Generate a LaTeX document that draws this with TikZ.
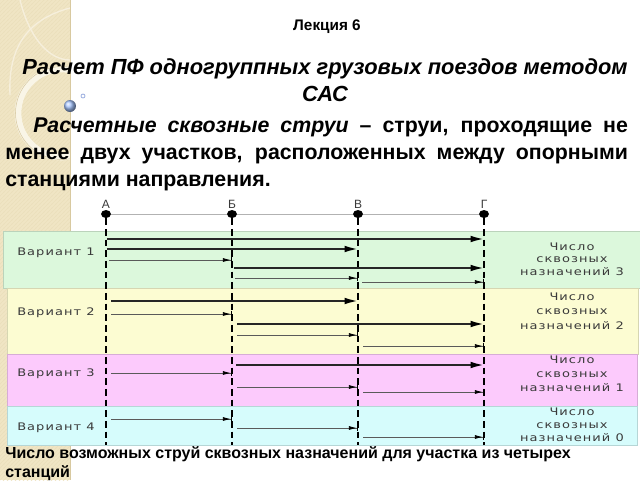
\documentclass[tikz,border=0pt]{standalone}
\usepackage{fontspec}
\setmainfont{Liberation Sans}
\newfontfamily\lblfont[LetterSpace=10,FakeStretch=1.25]{DejaVu Sans}
\usetikzlibrary{arrows.meta,calc,patterns,shapes.geometric}
\definecolor{beige}{HTML}{F0E5C4}
\definecolor{beigeline}{HTML}{EBDFBB}
\definecolor{beigeedge}{HTML}{D8C9A0}
\definecolor{bandA}{HTML}{DCF8DC}
\definecolor{bandB}{HTML}{FCFCD2}
\definecolor{bandC}{HTML}{FCCAFC}
\definecolor{bandD}{HTML}{D6FCFC}
\definecolor{lbl}{HTML}{3A3A3A}
\definecolor{thinline}{HTML}{5A5A5A}
\newcommand\flow[5]{%
  \coordinate (fy) at (0,#1);
  \draw[#5] ($(#2 |- fy)+(#4,0)$) -- (#3 |- fy);}
\begin{document}
\begin{tikzpicture}[x=0.75pt,y=-0.75pt,
  bandbox/.style={draw=#1!85!black, line width=0.4pt, fill=#1},
  varlabel/.style={anchor=west, font=\lblfont\fontsize{7.8}{10}\selectfont, text=lbl, inner sep=0},
  numlabel/.style={align=center, font=\lblfont\fontsize{7.8}{#1}\selectfont, text=lbl, inner sep=0},
  stdot/.style={ellipse, fill=black, minimum width=7.5pt, minimum height=6pt, inner sep=0},
  stlabel/.style={anchor=south, font=\fontsize{9}{10}\selectfont, text=lbl, inner sep=0},
  stline/.style={black, line width=0.9pt, dash pattern=on 5pt off 3pt},
  thickflow/.style={black!85, line width=1.5pt, -{Latex[length=10pt,width=5pt,black]}},
  thinflow/.style={thinline, line width=0.6pt, -{Latex[length=6pt,width=3pt,black]Bar[width=5pt,line width=0.8pt,black]}}
]
\useasboundingbox (0,0) rectangle (640,480);
\fill[white] (0,0) rectangle (640,480);
% left decorative stripe
\fill[beige] (0,0) rectangle (70,480);
\fill[pattern=north east lines, pattern color=beigeline] (0,0) rectangle (70,480);
\begin{scope}
  \clip (0,0) rectangle (70,480);
  \draw[white!60!beige, line width=5pt] (62,113) circle (44);
  \draw[beigeedge, line width=0.4pt] (62,113) circle (46.5);
  \draw[white!40!beige, line width=1pt] (70,8) .. controls (25,20) and (8,50) .. (10,95);
  \draw[white!40!beige, line width=1pt] (20,0) .. controls (30,40) and (50,60) .. (70,60);
\end{scope}
\draw[beigeedge, line width=0.6pt] (70,0) -- (70,480);
\shade[ball color=cyan!35!blue!35!white] (70,106) circle (6);
\draw[cyan!40!blue!40, line width=0.6pt] (83,96) circle (2);

% texts
\node[font=\bfseries\fontsize{11.5}{12}\selectfont, inner sep=0] (lec) at (327,27) {Лекция 6};
\node[font=\bfseries\itshape\fontsize{16.4}{20.3}\selectfont, align=center, inner sep=0] (title) at (325,80)
  {Расчет ПФ одногруппных грузовых поездов методом\\САС};
\node[anchor=north west, text width=467pt, align=justify, inner sep=0,
      font=\bfseries\fontsize{16}{20}\selectfont] (para) at (5,118)
  {\hspace*{21pt}\textit{Расчетные сквозные струи} – струи, проходящие не\linebreak
   менее двух участков, расположенных между опорными\linebreak
   станциями направления.};

% bands
\path[bandbox=bandA] (3,231) rectangle (640,288);
\path[bandbox=bandB] (7,288) rectangle (638,354);
\path[bandbox=bandC] (7,354) rectangle (637,406);
\path[bandbox=bandD] (7,406) rectangle (637,445);

\node[varlabel] (v1) at (17,253) {Вариант 1};
\node[varlabel] (v2) at (17,313) {Вариант 2};
\node[varlabel] (v3) at (17,374) {Вариант 3};
\node[varlabel] (v4) at (17,428) {Вариант 4};

\node[numlabel=9.5] (n1) at (572,259) {Число\\сквозных\\назначений 3};
\node[numlabel=10.8] (n2) at (572,311) {Число\\сквозных\\назначений 2};
\node[numlabel=10.3] (n3) at (572,374) {Число\\сквозных\\назначений 1};
\node[numlabel=9.6] (n4) at (572,425) {Число\\сквозных\\назначений 0};

% stations
\coordinate (A0) at (106,214);
\coordinate (G0) at (484,214);
\draw[black!30, line width=0.6pt] (A0) -- (G0);
\coordinate (bot) at (0,445);
\foreach \n/\x/\t in {A/106/А, B/232/Б, V/358/В, G/484/Г}{
  \node[stdot] (\n) at (\x,214) {};
  \node[stlabel] (\n lab) at (\x,209) {\t};
  \draw[stline] (\n) -- (\n |- bot);
}

% variant 1
\flow{239}{A}{G}{1}{thickflow}
\flow{249}{A}{V}{1}{thickflow}
\flow{260}{A}{B}{3}{thinflow}
\flow{268}{B}{G}{2}{thickflow}
\flow{278}{B}{V}{3}{thinflow}
\flow{282}{V}{G}{4}{thinflow}
% variant 2
\flow{301}{A}{V}{5}{thickflow}
\flow{314}{A}{B}{5}{thinflow}
\flow{324}{B}{G}{5}{thickflow}
\flow{335}{B}{V}{5}{thinflow}
\flow{346}{V}{G}{5}{thinflow}
% variant 3
\flow{365}{B}{G}{4}{thickflow}
\flow{373}{A}{B}{5}{thinflow}
\flow{387}{B}{V}{5}{thinflow}
\flow{392}{V}{G}{5}{thinflow}
% variant 4
\flow{419}{A}{B}{5}{thinflow}
\flow{428}{B}{V}{5}{thinflow}
\flow{437}{V}{G}{5}{thinflow}

\node[anchor=north west, align=left, inner sep=0,
      font=\bfseries\fontsize{12}{14.25}\selectfont] (foot) at (5,446)
  {Число возможных струй сквозных назначений для участка из четырех\\станций};
\end{tikzpicture}
\end{document}
